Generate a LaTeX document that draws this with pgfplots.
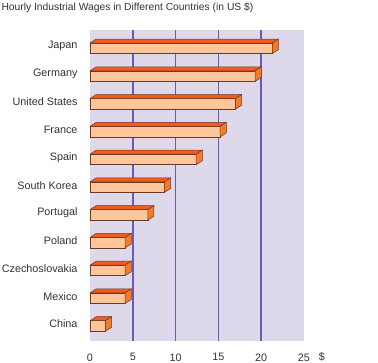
\documentclass[border=0pt]{standalone}
\usepackage{pgfplots}
\pgfplotsset{compat=1.18}
\usepackage{pgfplotstable}
\usepackage{fontspec}
\setmainfont{Liberation Sans}
\definecolor{front}{HTML}{FFC69C}
\definecolor{topf}{HTML}{F25A1E}
\definecolor{sidef}{HTML}{F57A2C}
\definecolor{edge}{HTML}{6B3A20}
\definecolor{bg}{HTML}{DDD9EA}
\definecolor{gridc}{HTML}{6A5AC0}
\definecolor{txt}{HTML}{333333}
\pgfplotstableread{
y v
10 21.3
9 19.3
8 17.0
7 15.2
6 12.4
5 8.7
4 6.75
3 4.1
2 4.1
1 4.1
0 1.8
}\wages
\newcommand{\depth}[2]{%
  \pgfmathsetmacro\xe{#2+0.72}%
  \pgfmathsetmacro\yt{#1+0.19}%
  \pgfmathsetmacro\yb{#1-0.19}%
  \pgfmathsetmacro\ytt{#1+0.19+0.145}%
  \pgfmathsetmacro\ybt{#1-0.19+0.145}%
  \edef\tmp{\noexpand\addplot[fill=topf, draw=edge, line width=0.5pt] coordinates {(0,\yt) (#2,\yt) (\xe,\ytt) (0.72,\ytt) (0,\yt)};}\tmp
  \edef\tmp{\noexpand\addplot[fill=sidef, draw=edge, line width=0.5pt] coordinates {(#2,\yb) (\xe,\ybt) (\xe,\ytt) (#2,\yt) (#2,\yb)};}\tmp
}
\begin{document}
\begin{tikzpicture}
\useasboundingbox[fill=white] (-90bp,-22bp) rectangle (288bp,341bp);
\begin{axis}[
  at={(0,0)}, anchor=south west,
  scale only axis, width=214bp, height=311bp,
  xmin=0, xmax=25, ymin=-0.54, ymax=10.66,
  axis background/.style={fill=bg},
  axis line style={draw=none},
  tick style={draw=none},
  xtick={0,5,...,25},
  extra x ticks={5,10,15,20},
  extra x tick labels={},
  extra x tick style={grid=major},
  major grid style={draw=gridc, line width=1.5pt},
  ytick={0,...,10},
  yticklabels={China,Mexico,Czechoslovakia,Poland,Portugal,South Korea,Spain,France,United States,Germany,Japan},
  ticklabel style={font=\fontsize{10.8bp}{13bp}\selectfont, text=txt},
  yticklabel style={xshift=-9bp, yshift=2bp},
  xticklabel style={yshift=-9bp},
  /pgf/number format/assume math mode=true,
  xlabel={\$}, xlabel style={at={(axis description cs:1,0)}, anchor=center, xshift=18bp, yshift=-16bp, font=\fontsize{10.8bp}{13bp}\selectfont, text=txt},
  title={Hourly Industrial Wages in Different Countries (in US \$)},
  title style={at={(axis description cs:0,1)}, anchor=west, xshift=-92bp, yshift=16bp, font=\fontsize{10.3bp}{12bp}\selectfont, text=txt},
]
\addplot[xbar, bar width=0.38, fill=front, draw=edge, line width=0.5pt] table[x=v, y=y] {\wages};
\depth{10}{21.3}
\depth{9}{19.3}
\depth{8}{17.0}
\depth{7}{15.2}
\depth{6}{12.4}
\depth{5}{8.7}
\depth{4}{6.75}
\depth{3}{4.1}
\depth{2}{4.1}
\depth{1}{4.1}
\depth{0}{1.8}
\end{axis}
\end{tikzpicture}
\end{document}
